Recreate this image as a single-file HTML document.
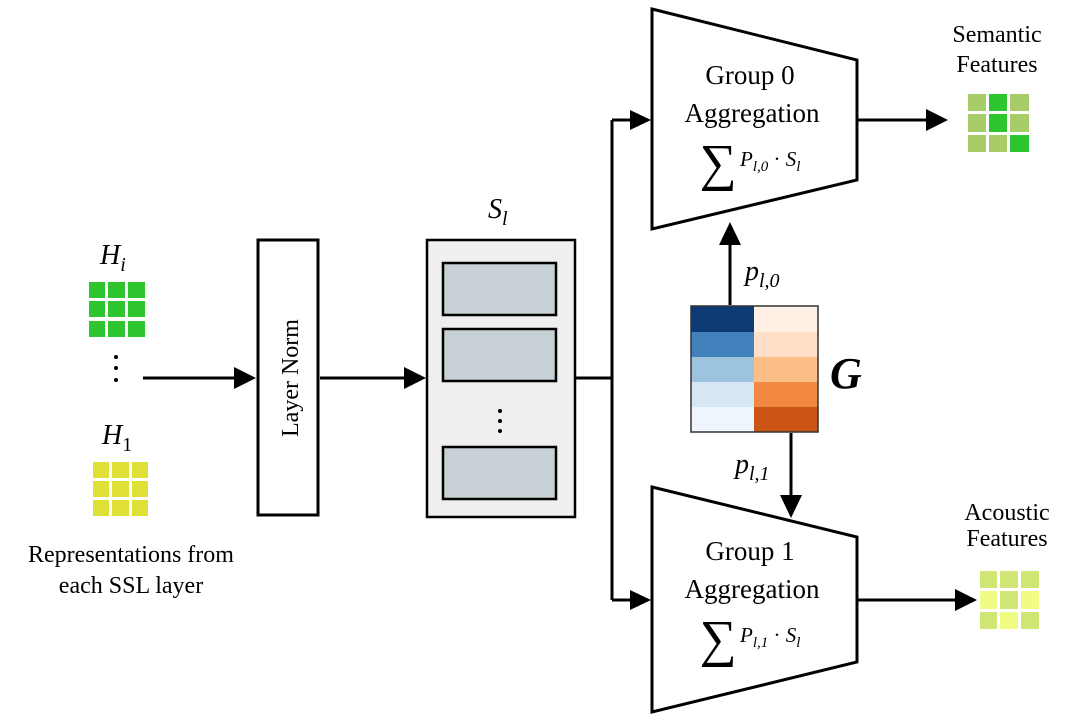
<!DOCTYPE html>
<html><head><meta charset="utf-8"><style>
html,body{margin:0;padding:0;background:#fff;}
svg{display:block;}
text{font-family:"Liberation Serif",serif;fill:#000;}
</style></head><body>
<svg width="1065" height="725" viewBox="0 0 1065 725" xmlns="http://www.w3.org/2000/svg">
<g stroke="#000" stroke-width="3" fill="none">
<polygon points="652,9 857,60 857,180 652,229" fill="#fff"/>
<polygon points="652,487 857,537 857,662 652,712" fill="#fff"/>
<rect x="258" y="240" width="60" height="275" fill="#fff"/>
<rect x="427" y="240" width="148" height="277" fill="#efefef" stroke-width="2.5"/>
<rect x="443" y="263" width="113" height="52" fill="#c6d0d5" stroke-width="2.5"/>
<rect x="443" y="329" width="113" height="52" fill="#c6d0d5" stroke-width="2.5"/>
<rect x="443" y="447" width="113" height="52" fill="#c6d0d5" stroke-width="2.5"/>
<line x1="143" y1="378" x2="236" y2="378"/>
<line x1="320" y1="378" x2="406" y2="378"/>
<polyline points="575,378 612,378"/>
<line x1="612" y1="120" x2="612" y2="600"/>
<line x1="612" y1="120" x2="632" y2="120"/>
<line x1="612" y1="600" x2="632" y2="600"/>
<line x1="857" y1="120" x2="928" y2="120"/>
<line x1="857" y1="600" x2="956" y2="600"/>
<line x1="730" y1="305" x2="730" y2="244"/>
<line x1="791" y1="433" x2="791" y2="496"/>
</g>
<g fill="#000">
<polygon points="256,378 234,367 234,389"/>
<polygon points="426,378 404,367 404,389"/>
<polygon points="651,120 630,110 630,130"/>
<polygon points="651,600 630,590 630,610"/>
<polygon points="948,120 926,109 926,131"/>
<polygon points="977,600 955,589 955,611"/>
<polygon points="730,222 719,245 741,245"/>
<polygon points="791,518 780,495 802,495"/>
<circle cx="116" cy="357" r="2"/><circle cx="116" cy="368" r="2"/><circle cx="116" cy="380" r="2"/>
<circle cx="500" cy="411" r="2"/><circle cx="500" cy="421" r="2"/><circle cx="500" cy="431" r="2"/>
</g>
<g>
<rect x="691" y="306" width="63" height="26" fill="#0b3a75"/>
<rect x="691" y="332" width="63" height="25" fill="#4182bc"/>
<rect x="691" y="357" width="63" height="25" fill="#9dc4de"/>
<rect x="691" y="382" width="63" height="25" fill="#d7e6f3"/>
<rect x="691" y="407" width="63" height="25" fill="#eff5fc"/>
<rect x="754" y="306" width="64" height="26" fill="#fef0e5"/>
<rect x="754" y="332" width="64" height="25" fill="#fde0c7"/>
<rect x="754" y="357" width="64" height="25" fill="#fdbd87"/>
<rect x="754" y="382" width="64" height="25" fill="#f18942"/>
<rect x="754" y="407" width="64" height="25" fill="#cb5514"/>
<rect x="691" y="306" width="127" height="126" fill="none" stroke="#333" stroke-width="1.5"/>
</g>
<g fill="#2ec52e">
<rect x="89" y="282" width="16" height="16"/><rect x="108" y="282" width="17" height="16"/><rect x="128" y="282" width="17" height="16"/>
<rect x="89" y="301" width="16" height="16"/><rect x="108" y="301" width="17" height="16"/><rect x="128" y="301" width="17" height="16"/>
<rect x="89" y="321" width="16" height="16"/><rect x="108" y="321" width="17" height="16"/><rect x="128" y="321" width="17" height="16"/>
</g>
<g fill="#dfe036">
<rect x="93" y="462" width="16" height="16"/><rect x="112" y="462" width="17" height="16"/><rect x="132" y="462" width="16" height="16"/>
<rect x="93" y="481" width="16" height="16"/><rect x="112" y="481" width="17" height="16"/><rect x="132" y="481" width="16" height="16"/>
<rect x="93" y="500" width="16" height="16"/><rect x="112" y="500" width="17" height="16"/><rect x="132" y="500" width="16" height="16"/>
</g>
<g>
<rect x="968" y="94" width="18" height="17" fill="#a8cd68"/><rect x="989" y="94" width="18" height="17" fill="#2ec52e"/><rect x="1010" y="94" width="19" height="17" fill="#a8cd68"/>
<rect x="968" y="114" width="18" height="18" fill="#a8cd68"/><rect x="989" y="114" width="18" height="18" fill="#2ec52e"/><rect x="1010" y="114" width="19" height="18" fill="#a8cd68"/>
<rect x="968" y="135" width="18" height="17" fill="#a8cd68"/><rect x="989" y="135" width="18" height="17" fill="#a8cd68"/><rect x="1010" y="135" width="19" height="17" fill="#2ec52e"/>
</g>
<g>
<rect x="980" y="571" width="17" height="17" fill="#cfe675"/><rect x="1000" y="571" width="18" height="17" fill="#cfe675"/><rect x="1021" y="571" width="18" height="17" fill="#cfe675"/>
<rect x="980" y="591" width="17" height="18" fill="#f1fc84"/><rect x="1000" y="591" width="18" height="18" fill="#cfe675"/><rect x="1021" y="591" width="18" height="18" fill="#f1fc84"/>
<rect x="980" y="612" width="17" height="17" fill="#cfe675"/><rect x="1000" y="612" width="18" height="17" fill="#f1fc84"/><rect x="1021" y="612" width="18" height="17" fill="#cfe675"/>
</g>
<g font-size="27" text-anchor="middle">
<text x="750" y="84">Group 0</text>
<text x="752" y="122">Aggregation</text>
<text x="750" y="560">Group 1</text>
<text x="752" y="598">Aggregation</text>
</g>
<text x="718" y="180" font-size="52" text-anchor="middle" font-family="DejaVu Sans,sans-serif">∑</text>
<text x="718" y="656" font-size="52" text-anchor="middle" font-family="DejaVu Sans,sans-serif">∑</text>
<text x="740" y="166" font-style="italic" font-size="21">P<tspan font-size="15" dy="5">l,0</tspan><tspan dy="-5" font-style="normal"> · </tspan>S<tspan font-size="15" dy="5">l</tspan></text>
<text x="740" y="642" font-style="italic" font-size="21">P<tspan font-size="15" dy="5">l,1</tspan><tspan dy="-5" font-style="normal"> · </tspan>S<tspan font-size="15" dy="5">l</tspan></text>
<g font-style="italic" font-size="28">
<text x="488" y="218">S<tspan font-size="20" dy="7">l</tspan></text>
<text x="100" y="264">H<tspan font-size="20" dy="7">i</tspan></text>
<text x="102" y="444">H<tspan font-size="20" dy="7" font-style="normal">1</tspan></text>
<text x="745" y="280">p<tspan font-size="20" dy="7">l,0</tspan></text>
<text x="735" y="473">p<tspan font-size="20" dy="7">l,1</tspan></text>
<text x="830" y="388" font-size="44" font-weight="bold">G</text>
</g>
<text x="298" y="378" font-size="24" text-anchor="middle" transform="rotate(-90 298 378)">Layer Norm</text>
<g font-size="24" text-anchor="middle">
<text x="997" y="42">Semantic</text>
<text x="997" y="72">Features</text>
<text x="1007" y="520">Acoustic</text>
<text x="1007" y="546">Features</text>
<text x="131" y="562">Representations from</text>
<text x="131" y="593">each SSL layer</text>
</g>
</svg>
</body></html>
